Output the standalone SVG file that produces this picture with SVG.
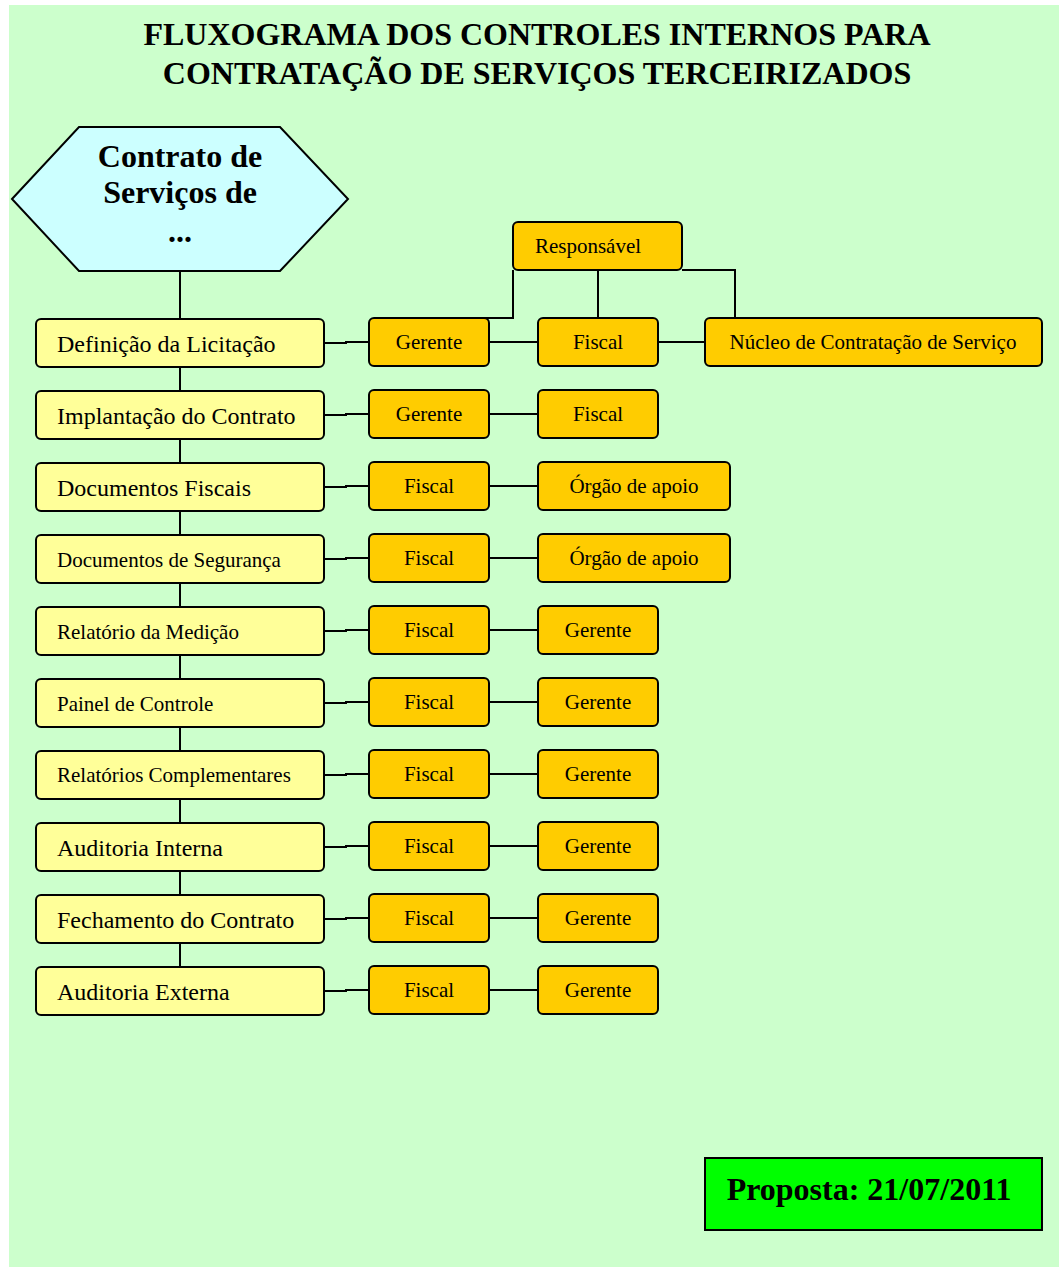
<svg xmlns="http://www.w3.org/2000/svg" width="1059" height="1267" viewBox="0 0 1059 1267">
<style>
.t{font-family:"Liberation Serif","Times New Roman",serif;fill:#000}
.b{font-weight:bold}
.step{fill:#ffff99;stroke:#000;stroke-width:2}
.role{fill:#ffcc00;stroke:#000;stroke-width:2}
.ln{fill:none;stroke:#000;stroke-width:2}
.s24{font-size:24px}
.s21{font-size:21px}
.mid{text-anchor:middle}
</style>
<rect x="9" y="5" width="1050" height="1262" fill="#ccffcc"/>
<g id="title">
<text class="t b mid" x="537" y="45" font-size="32">FLUXOGRAMA DOS CONTROLES INTERNOS PARA</text>
<text class="t b mid" x="537" y="84" font-size="32">CONTRATAÇÃO DE SERVIÇOS TERCEIRIZADOS</text>
</g>
<g id="connectors">
<line class="ln" x1="180" y1="271" x2="180" y2="967"/>
<path class="ln" d="M513,270 L513,318 L430,318 M598,270 L598,318 M682,270 L735,270 L735,318 L873,318"/>
<path class="ln" d="M324,343 L346,343 L346,342 L369,342 M489,342 L538,342 M658,342 L705,342"/>
<path class="ln" d="M324,415 L346,415 L346,414 L369,414 M489,414 L538,414"/>
<path class="ln" d="M324,487 L346,487 L346,486 L369,486 M489,486 L538,486"/>
<path class="ln" d="M324,559 L346,559 L346,558 L369,558 M489,558 L538,558"/>
<path class="ln" d="M324,631 L346,631 L346,630 L369,630 M489,630 L538,630"/>
<path class="ln" d="M324,703 L346,703 L346,702 L369,702 M489,702 L538,702"/>
<path class="ln" d="M324,775 L346,775 L346,774 L369,774 M489,774 L538,774"/>
<path class="ln" d="M324,847 L346,847 L346,846 L369,846 M489,846 L538,846"/>
<path class="ln" d="M324,919 L346,919 L346,918 L369,918 M489,918 L538,918"/>
<path class="ln" d="M324,991 L346,991 L346,990 L369,990 M489,990 L538,990"/>
</g>
<g id="contrato">
<polygon points="12,199 79,127 280,127 348,199 280,271 79,271" fill="#ccffff" stroke="#000" stroke-width="2"/>
<text class="t b mid" x="180" y="167" font-size="32">Contrato de</text>
<text class="t b mid" x="180" y="203" font-size="32">Serviços de</text>
<text class="t b mid" x="180" y="242" font-size="32">...</text>
</g>
<g id="responsavel">
<rect class="role" x="513" y="222" width="169" height="48" rx="5"/>
<text class="t s21 mid" x="588" y="253">Responsável</text>
</g>
<g id="row1">
<rect class="step" x="36" y="319" width="288" height="48" rx="5"/>
<text class="t s24" x="57" y="352">Definição da Licitação</text>
<rect class="role" x="369" y="318" width="120" height="48" rx="5"/>
<text class="t s21 mid" x="429" y="349">Gerente</text>
<rect class="role" x="538" y="318" width="120" height="48" rx="5"/>
<text class="t s21 mid" x="598" y="349">Fiscal</text>
<rect class="role" x="705" y="318" width="337" height="48" rx="5"/>
<text class="t s21 mid" x="873" y="349">Núcleo de Contratação de Serviço</text>
</g>
<g id="row2">
<rect class="step" x="36" y="391" width="288" height="48" rx="5"/>
<text class="t s24" x="57" y="424">Implantação do Contrato</text>
<rect class="role" x="369" y="390" width="120" height="48" rx="5"/>
<text class="t s21 mid" x="429" y="421">Gerente</text>
<rect class="role" x="538" y="390" width="120" height="48" rx="5"/>
<text class="t s21 mid" x="598" y="421">Fiscal</text>
</g>
<g id="row3">
<rect class="step" x="36" y="463" width="288" height="48" rx="5"/>
<text class="t s24" x="57" y="496">Documentos Fiscais</text>
<rect class="role" x="369" y="462" width="120" height="48" rx="5"/>
<text class="t s21 mid" x="429" y="493">Fiscal</text>
<rect class="role" x="538" y="462" width="192" height="48" rx="5"/>
<text class="t s21 mid" x="634" y="493">Órgão de apoio</text>
</g>
<g id="row4">
<rect class="step" x="36" y="535" width="288" height="48" rx="5"/>
<text class="t s21" x="57" y="567">Documentos de Segurança</text>
<rect class="role" x="369" y="534" width="120" height="48" rx="5"/>
<text class="t s21 mid" x="429" y="565">Fiscal</text>
<rect class="role" x="538" y="534" width="192" height="48" rx="5"/>
<text class="t s21 mid" x="634" y="565">Órgão de apoio</text>
</g>
<g id="row5">
<rect class="step" x="36" y="607" width="288" height="48" rx="5"/>
<text class="t s21" x="57" y="639">Relatório da Medição</text>
<rect class="role" x="369" y="606" width="120" height="48" rx="5"/>
<text class="t s21 mid" x="429" y="637">Fiscal</text>
<rect class="role" x="538" y="606" width="120" height="48" rx="5"/>
<text class="t s21 mid" x="598" y="637">Gerente</text>
</g>
<g id="row6">
<rect class="step" x="36" y="679" width="288" height="48" rx="5"/>
<text class="t s21" x="57" y="711">Painel de Controle</text>
<rect class="role" x="369" y="678" width="120" height="48" rx="5"/>
<text class="t s21 mid" x="429" y="709">Fiscal</text>
<rect class="role" x="538" y="678" width="120" height="48" rx="5"/>
<text class="t s21 mid" x="598" y="709">Gerente</text>
</g>
<g id="row7">
<rect class="step" x="36" y="751" width="288" height="48" rx="5"/>
<text class="t s21" x="57" y="782">Relatórios Complementares</text>
<rect class="role" x="369" y="750" width="120" height="48" rx="5"/>
<text class="t s21 mid" x="429" y="781">Fiscal</text>
<rect class="role" x="538" y="750" width="120" height="48" rx="5"/>
<text class="t s21 mid" x="598" y="781">Gerente</text>
</g>
<g id="row8">
<rect class="step" x="36" y="823" width="288" height="48" rx="5"/>
<text class="t s24" x="57" y="856">Auditoria Interna</text>
<rect class="role" x="369" y="822" width="120" height="48" rx="5"/>
<text class="t s21 mid" x="429" y="853">Fiscal</text>
<rect class="role" x="538" y="822" width="120" height="48" rx="5"/>
<text class="t s21 mid" x="598" y="853">Gerente</text>
</g>
<g id="row9">
<rect class="step" x="36" y="895" width="288" height="48" rx="5"/>
<text class="t s24" x="57" y="928">Fechamento do Contrato</text>
<rect class="role" x="369" y="894" width="120" height="48" rx="5"/>
<text class="t s21 mid" x="429" y="925">Fiscal</text>
<rect class="role" x="538" y="894" width="120" height="48" rx="5"/>
<text class="t s21 mid" x="598" y="925">Gerente</text>
</g>
<g id="row10">
<rect class="step" x="36" y="967" width="288" height="48" rx="5"/>
<text class="t s24" x="57" y="1000">Auditoria Externa</text>
<rect class="role" x="369" y="966" width="120" height="48" rx="5"/>
<text class="t s21 mid" x="429" y="997">Fiscal</text>
<rect class="role" x="538" y="966" width="120" height="48" rx="5"/>
<text class="t s21 mid" x="598" y="997">Gerente</text>
</g>
<g id="proposta">
<rect x="705" y="1158" width="337" height="72" fill="#00ff00" stroke="#000" stroke-width="2"/>
<text class="t b mid" x="869" y="1200" font-size="32">Proposta: 21/07/2011</text>
</g>
</svg>
